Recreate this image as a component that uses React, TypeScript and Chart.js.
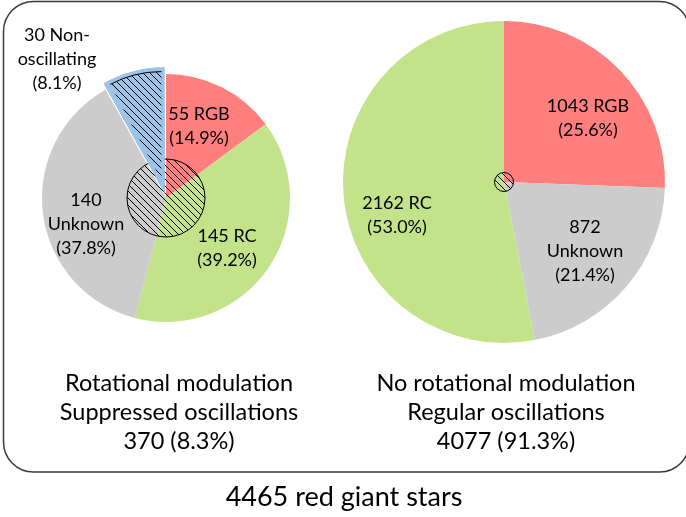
import React, { useEffect, useRef } from 'react';
import { Chart, registerables } from 'chart.js';

Chart.register(...registerables);

// ---------- data ----------
const leftNames = ['RGB', 'RC', '\nUnknown', 'Non-\noscillating'];
const leftCounts = [55, 145, 140, 30];
const leftPercents = ['14.9%', '39.2%', '37.8%', '8.1%'];

const rightNames = ['RGB', '\nUnknown', 'RC'];
const rightCounts = [1043, 872, 2162];
const rightPercents = ['25.6%', '21.4%', '53.0%'];

const leftCaption = ['Rotational modulation', 'Suppressed oscillations', '370 (8.3%)'];
const rightCaption = ['No rotational modulation', 'Regular oscillations', '4077 (91.3%)'];
const mainTitle = '4465 red giant stars';

// ---------- style / layout ----------
const W = 686;
const H = 517;
const FONT = 'Lato, "Open Sans", sans-serif';
const RED = '#FF7F7F';
const GREEN = '#C3E38B';
const GRAY = '#CCCCCC';
const BLUE = '#9DC3E6';
const leftColors = [RED, GREEN, GRAY, BLUE];
const rightColors = [RED, GRAY, GREEN];

const leftLabelOffsets: [number, number][] = [[33, -72], [61, 50], [-80, 26], [-109, -139]];
const rightLabelOffsets: [number, number][] = [[84, -64], [81, 69], [-107, 33]];

function makeHatch(s = 7): CanvasPattern | string {
  const c = document.createElement('canvas');
  c.width = s;
  c.height = s;
  const g = c.getContext('2d');
  if (!g) return '#000';
  g.strokeStyle = '#000';
  g.lineWidth = 1;
  g.beginPath();
  for (const k of [-s, 0, s]) {
    g.moveTo(k - 1, -1);
    g.lineTo(k + s + 1, s + 1);
  }
  g.stroke();
  const p = g.createPattern(c, 'repeat');
  return p || '#000';
}

function labelLines(name: string, count: number, pct: string): string[] {
  const parts = `${count} ${name}`.split('\n').map((t) => t.trim());
  return [...parts, `(${pct})`];
}

function drawLines(ctx: CanvasRenderingContext2D, lines: string[], cx: number, cy: number, size: number, lh: number) {
  ctx.save();
  ctx.font = `${size}px ${FONT}`;
  ctx.fillStyle = '#000';
  ctx.textAlign = 'center';
  ctx.textBaseline = 'middle';
  const n = lines.length;
  lines.forEach((t, i) => ctx.fillText(t, cx, cy + (i - (n - 1) / 2) * lh));
  ctx.restore();
}

function hatchedCircle(ctx: CanvasRenderingContext2D, x: number, y: number, r: number) {
  ctx.save();
  ctx.beginPath();
  ctx.arc(x, y, r, 0, Math.PI * 2);
  ctx.fillStyle = makeHatch(7) as any;
  ctx.fill();
  ctx.strokeStyle = '#000';
  ctx.lineWidth = 1;
  ctx.stroke();
  ctx.restore();
}

const leftPlugin = {
  id: 'leftDeco',
  beforeDraw(chart: any) {
    const ctx: CanvasRenderingContext2D = chart.ctx;
    ctx.save();
    ctx.strokeStyle = '#3a3a3a';
    ctx.lineWidth = 1.5;
    ctx.beginPath();
    (ctx as any).roundRect(3.5, 1.5, 686, 470.5, 30);
    ctx.stroke();
    ctx.restore();
  },
  afterDatasetsDraw(chart: any) {
    const ctx: CanvasRenderingContext2D = chart.ctx;
    const meta = chart.getDatasetMeta(0);
    const a0 = meta.data[0];
    hatchedCircle(ctx, a0.x, a0.y, 39);
    // exploded slice on top of the circle, with a white gap around it
    const arc = meta.data[3];
    const off = arc.options.offset || 0;
    const mid = (arc.startAngle + arc.endAngle) / 2;
    const tx = arc.x + Math.cos(mid) * off;
    const ty = arc.y + Math.sin(mid) * off;
    ctx.save();
    ctx.beginPath();
    ctx.moveTo(tx, ty);
    ctx.arc(tx, ty, arc.outerRadius, arc.startAngle, arc.endAngle);
    ctx.closePath();
    ctx.strokeStyle = '#fff';
    ctx.lineWidth = 3;
    ctx.lineJoin = 'miter';
    ctx.stroke();
    ctx.restore();
    arc.draw(ctx);
    const rh = arc.outerRadius - 15;
    ctx.save();
    ctx.beginPath();
    ctx.moveTo(tx, ty);
    ctx.arc(tx, ty, rh, arc.startAngle + 0.02, arc.endAngle);
    ctx.closePath();
    ctx.fillStyle = makeHatch(7) as any;
    ctx.fill();
    ctx.beginPath();
    ctx.arc(tx, ty, rh, arc.startAngle + 0.02, arc.endAngle);
    ctx.strokeStyle = '#000';
    ctx.lineWidth = 1;
    ctx.stroke();
    ctx.restore();
  },
  afterDraw(chart: any) {
    const ctx: CanvasRenderingContext2D = chart.ctx;
    const meta = chart.getDatasetMeta(0);
    const cx = meta.data[0].x;
    const cy = meta.data[0].y;
    leftCounts.forEach((c, i) => {
      const [dx, dy] = leftLabelOffsets[i];
      drawLines(ctx, labelLines(leftNames[i], c, leftPercents[i]), cx + dx, cy + dy, 18, 24);
    });
    drawLines(ctx, leftCaption, 179, 412, 23.5, 29);
    drawLines(ctx, rightCaption, 506, 412, 23.5, 29);
    drawLines(ctx, [mainTitle], 344, 497, 27, 30);
  },
};

const rightPlugin = {
  id: 'rightDeco',
  afterDatasetsDraw(chart: any) {
    const ctx: CanvasRenderingContext2D = chart.ctx;
    const a0 = chart.getDatasetMeta(0).data[0];
    hatchedCircle(ctx, a0.x, a0.y, 9.5);
  },
  afterDraw(chart: any) {
    const ctx: CanvasRenderingContext2D = chart.ctx;
    const a0 = chart.getDatasetMeta(0).data[0];
    rightCounts.forEach((c, i) => {
      const [dx, dy] = rightLabelOffsets[i];
      drawLines(ctx, labelLines(rightNames[i], c, rightPercents[i]), a0.x + dx, a0.y + dy, 18, 24);
    });
  },
};

export default function App() {
  const leftRef = useRef<HTMLCanvasElement>(null);
  const rightRef = useRef<HTMLCanvasElement>(null);

  useEffect(() => {
    if (!leftRef.current || !rightRef.current) return;
    const left = new Chart(leftRef.current, {
      type: 'pie',
      data: {
        labels: leftNames.map((n) => n.replace('\n', '')),
        datasets: [
          {
            data: leftCounts,
            backgroundColor: leftColors,
            borderWidth: 0,
            offset: [0, 0, 0, 18],
            radius: 124,
          } as any,
        ],
      },
      options: {
        responsive: false,
        animation: false,
        events: [],
        layout: { padding: { left: 0, top: 0, right: 354, bottom: 121 } },
        plugins: { legend: { display: false }, tooltip: { enabled: false }, title: { display: false } },
      },
      plugins: [leftPlugin],
    });
    const right = new Chart(rightRef.current, {
      type: 'pie',
      data: {
        labels: rightNames.map((n) => n.replace('\n', '')),
        datasets: [
          {
            data: rightCounts,
            backgroundColor: rightColors,
            borderWidth: 0,
            radius: 161,
          } as any,
        ],
      },
      options: {
        responsive: false,
        animation: false,
        events: [],
        layout: { padding: { left: 322, top: 0, right: 0, bottom: 153 } },
        plugins: { legend: { display: false }, tooltip: { enabled: false }, title: { display: false } },
      },
      plugins: [rightPlugin],
    });
    return () => {
      left.destroy();
      right.destroy();
    };
  }, []);

  return (
    <div style={{ position: 'fixed', left: 0, top: 0, width: W, height: H, background: '#fff', overflow: 'hidden' }}>
      <canvas ref={leftRef} width={W} height={H} style={{ position: 'absolute', left: 0, top: 0 }} />
      <canvas ref={rightRef} width={W} height={H} style={{ position: 'absolute', left: 0, top: 0 }} />
    </div>
  );
}
